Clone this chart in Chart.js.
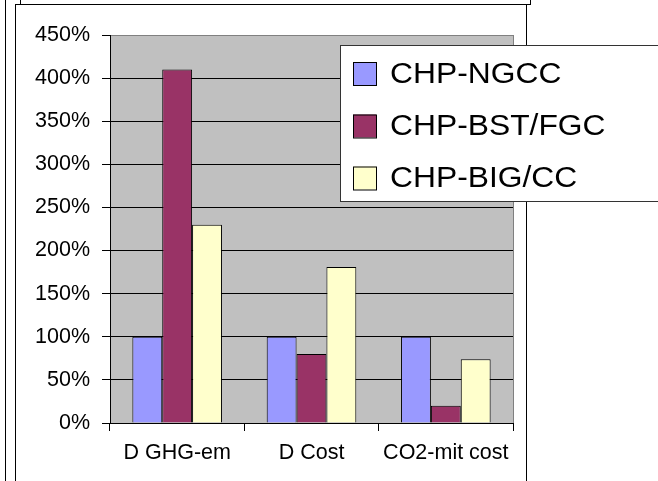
<!DOCTYPE html>
<html>
<head>
<meta charset="utf-8">
<script src="https://cdn.jsdelivr.net/npm/chart.js@4.4.1/dist/chart.umd.min.js"></script>
<style>
  html, body { margin: 0; padding: 0; background: #fff; overflow: hidden; }
  #wrap { position: relative; width: 658px; height: 481px; }
  .line { position: absolute; box-sizing: content-box; }
  #c { position: absolute; left: 0; top: 0; z-index: 2; }
</style>
</head>
<body>
<div id="wrap">
  <div class="line" style="left:5px;top:0;width:0;height:481px;border-left:1px solid #000;"></div>
  <div class="line" style="left:20px;top:-20px;width:509px;height:23px;border:1px solid #000;"></div>
  <div class="line" style="left:15px;top:4px;width:510px;height:500px;border:1px solid #000;"></div>
  <canvas id="c" width="658" height="481"></canvas>
</div>
<script>
// Categories and series (percent relative to CHP-NGCC)
const categories = ['D GHG-em', 'D Cost', 'CO2-mit cost'];
const seriesNames = ['CHP-NGCC', 'CHP-BST/FGC', 'CHP-BIG/CC'];
const ngcc = [100, 100, 100];
const bstFgc = [410, 80, 20];
const bigCc = [230, 181, 74];
const yTicks = [0, 50, 100, 150, 200, 250, 300, 350, 400, 450];
const seriesColors = ['#9999FF', '#993366', '#FFFFCC'];

const FONT = "'Liberation Sans', Arial, Helvetica, sans-serif";
Chart.defaults.font.family = FONT;
Chart.defaults.color = '#000';

// Grey plot area fill and its right border
const plotArea = {
  id: 'plotArea',
  beforeDraw(chart) {
    const { ctx, chartArea: a } = chart;
    ctx.save();
    ctx.fillStyle = '#C0C0C0';
    ctx.fillRect(a.left, a.top, a.right - a.left, a.bottom - a.top);
    ctx.restore();
  },
  afterDraw(chart) {
    const { ctx, chartArea: a } = chart;
    ctx.save();
    ctx.strokeStyle = '#808080';
    ctx.lineWidth = 1;
    ctx.beginPath();
    ctx.moveTo(Math.round(a.right) + 0.5, a.top);
    ctx.lineTo(Math.round(a.right) + 0.5, a.bottom);
    ctx.stroke();
    ctx.restore();
  }
};

// Boxed legend drawn from the dataset labels and colours
const boxLegend = {
  id: 'boxLegend',
  afterDraw(chart) {
    const { ctx } = chart;
    const x0 = 340, y0 = 45, y1 = 201;
    ctx.save();
    ctx.fillStyle = '#fff';
    ctx.fillRect(x0, y0, 700 - x0, y1 - y0);
    ctx.strokeStyle = '#333';
    ctx.lineWidth = 1;
    ctx.strokeRect(x0 + 0.5, y0 + 0.5, 700 - x0, y1 - y0);
    const rows = [73.5, 126, 178];
    ctx.font = '30px ' + FONT;
    ctx.textBaseline = 'middle';
    ctx.textAlign = 'left';
    chart.data.datasets.forEach((ds, i) => {
      const cy = rows[i];
      ctx.fillStyle = ds.backgroundColor;
      ctx.fillRect(353, cy - 11.5, 23, 23);
      ctx.strokeStyle = '#000';
      ctx.strokeRect(353.5, cy - 11, 23, 23);
      ctx.save();
      ctx.translate(390, cy + 1);
      ctx.scale(1.06, 1);
      ctx.fillStyle = '#000';
      ctx.fillText(ds.label, 0, 0);
      ctx.restore();
    });
    ctx.restore();
  }
};

const seriesValues = [ngcc, bstFgc, bigCc];

new Chart(document.getElementById('c'), {
  type: 'bar',
  data: {
    labels: categories,
    datasets: seriesNames.map((name, i) => ({
      label: name,
      data: seriesValues[i],
      backgroundColor: seriesColors[i],
      borderColor: '#000',
      borderWidth: 1,
      categoryPercentage: 0.667,
      barPercentage: 1.0
    }))
  },
  options: {
    responsive: false,
    devicePixelRatio: 1,
    animation: false,
    layout: { padding: { left: 0, top: 35, right: 145, bottom: 0 } },
    plugins: { legend: { display: false }, tooltip: { enabled: false } },
    scales: {
      x: {
        afterFit(s) { s.height = 58; },
        grid: {
          offset: true,
          drawOnChartArea: false,
          drawTicks: true,
          tickLength: 8,
          color: '#000',
          tickColor: '#000'
        },
        border: { display: true, color: '#000', width: 1 },
        ticks: { font: { size: 21.5 }, padding: 9, color: '#000', maxRotation: 0 }
      },
      y: {
        min: 0,
        max: 450,
        afterFit(s) { s.width = 110; },
        afterBuildTicks(s) { s.ticks = yTicks.map(v => ({ value: v })); },
        grid: {
          color: (c) => (c.tick && c.tick.value === 450 ? '#808080' : '#000'),
          tickColor: '#000',
          tickLength: 8,
          lineWidth: 1
        },
        border: { display: true, color: '#000', width: 1 },
        ticks: {
          font: { size: 21.5 },
          padding: 12,
          color: '#000',
          callback: (v) => v + '%'
        }
      }
    }
  },
  plugins: [plotArea, boxLegend]
});
</script>
</body>
</html>
